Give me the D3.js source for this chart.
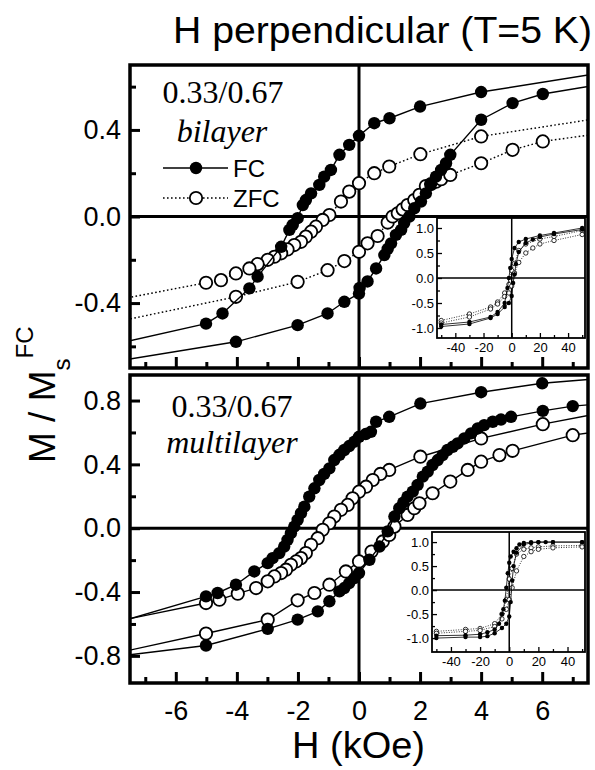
<!DOCTYPE html>
<html>
<head>
<meta charset="utf-8">
<script src="https://cdn.jsdelivr.net/npm/d3@7"></script>
<style>
  body { margin: 0; background: #fff; }
  svg { display: block; font-family: "Liberation Sans", Arial, sans-serif; }
</style>
</head>
<body>
<svg id="chart" width="595" height="770"></svg>
<script>
// ---- data: [H (kOe), M/Ms] ----
// bilayer, main panel
const bilFcDown = [[8.0,0.665],[4.0,0.575],[2.0,0.508],[1.0,0.454],[0.5,0.431],[0.0,0.373],[-0.32,0.331],[-0.64,0.285],[-0.92,0.215],[-1.14,0.184],[-1.30,0.146],[-1.57,0.107],[-1.74,0.076],[-1.84,0.053],[-2.01,-0.008],[-2.17,-0.039],[-2.28,-0.062],[-2.55,-0.14],[-3.32,-0.278],[-3.59,-0.332],[-4.47,-0.448],[-5.01,-0.495],[-8.0,-0.59]];
const bilFcUp = [[-8.0,-0.67],[-4.03,-0.579],[-2.01,-0.502],[-1.03,-0.448],[-0.48,-0.394],[0.0,-0.356],[0.02,-0.33],[0.28,-0.30],[0.56,-0.24],[0.83,-0.178],[0.94,-0.15],[1.05,-0.124],[1.21,-0.085],[1.38,-0.062],[1.48,-0.03],[1.65,0.0],[1.81,0.038],[2.03,0.069],[2.19,0.107],[2.36,0.15],[2.52,0.184],[2.69,0.215],[2.85,0.246],[2.99,0.285],[4.0,0.447],[5.03,0.524],[6.02,0.566],[8.0,0.612]];
const bilZfcDown = [[8.0,0.457],[4.0,0.37],[2.01,0.288],[0.99,0.231],[0.5,0.2],[0.0,0.154],[-0.32,0.115],[-0.59,0.069],[-0.97,0.007],[-1.19,-0.016],[-1.41,-0.047],[-1.57,-0.07],[-1.74,-0.093],[-1.9,-0.117],[-2.12,-0.132],[-2.34,-0.152],[-2.55,-0.17],[-2.77,-0.186],[-2.99,-0.2],[-3.32,-0.22],[-3.59,-0.24],[-4.03,-0.263],[-4.52,-0.294],[-5.01,-0.306],[-8.0,-0.387]];
const bilZfcUp = [[-8.0,-0.488],[-4.03,-0.371],[-2.01,-0.302],[-1.03,-0.248],[-0.48,-0.206],[0.0,-0.163],[0.28,-0.124],[0.61,-0.09],[0.94,-0.028],[1.1,0.0],[1.27,0.015],[1.43,0.033],[1.59,0.053],[1.81,0.076],[1.98,0.1],[2.19,0.141],[2.36,0.15],[2.52,0.161],[2.69,0.172],[2.99,0.192],[4.0,0.246],[5.03,0.308],[6.02,0.347],[8.0,0.385]];

// multilayer, main panel
const mulFcDown = [[8.0,0.94],[6.0,0.908],[4.0,0.852],[2.01,0.781],[0.99,0.698],[0.56,0.667],[0.39,0.604],[0.22,0.59],[0.0,0.573],[-0.15,0.542],[-0.32,0.515],[-0.48,0.49],[-0.64,0.46],[-0.81,0.427],[-0.97,0.375],[-1.14,0.34],[-1.3,0.302],[-1.46,0.25],[-1.63,0.198],[-1.79,0.135],[-1.9,0.094],[-2.01,0.052],[-2.12,0.01],[-2.23,-0.031],[-2.34,-0.073],[-2.45,-0.115],[-2.61,-0.156],[-2.83,-0.188],[-2.99,-0.219],[-3.43,-0.271],[-4.03,-0.354],[-4.63,-0.406],[-5.01,-0.427],[-8.0,-0.595]];
const mulFcUp = [[-8.0,-0.805],[-5.01,-0.735],[-2.99,-0.631],[-2.01,-0.573],[-1.35,-0.521],[-0.97,-0.458],[-0.64,-0.396],[-0.48,-0.375],[-0.32,-0.344],[-0.15,-0.3125],[0.0,-0.281],[0.34,-0.198],[0.67,-0.115],[0.94,-0.02],[1.16,0.073],[1.32,0.125],[1.45,0.16],[1.59,0.198],[1.76,0.229],[1.92,0.271],[2.09,0.323],[2.25,0.354],[2.41,0.396],[2.58,0.427],[2.74,0.458],[2.9,0.49],[3.07,0.51],[3.23,0.531],[3.45,0.5625],[3.67,0.594],[3.89,0.625],[4.1,0.646],[4.38,0.667],[4.65,0.681],[4.98,0.698],[6.02,0.735],[7.0,0.765],[8.0,0.78]];
const mulZfcDown = [[8.0,0.725],[6.02,0.652],[4.0,0.5625],[2.01,0.448],[0.99,0.365],[0.7,0.34],[0.45,0.302],[0.23,0.26],[0.0,0.229],[-0.21,0.1875],[-0.37,0.146],[-0.59,0.115],[-0.81,0.073],[-0.97,0.031],[-1.19,-0.01],[-1.35,-0.0625],[-1.57,-0.104],[-1.74,-0.156],[-1.9,-0.1875],[-2.06,-0.208],[-2.23,-0.229],[-2.39,-0.26],[-2.55,-0.281],[-2.77,-0.302],[-2.99,-0.333],[-3.37,-0.375],[-3.97,-0.41],[-4.57,-0.448],[-5.01,-0.469],[-8.0,-0.586]];
const mulZfcUp = [[-8.0,-0.785],[-5.01,-0.66],[-2.99,-0.573],[-2.01,-0.452],[-1.46,-0.406],[-0.97,-0.354],[-0.43,-0.271],[0.0,-0.208],[0.41,-0.146],[0.78,-0.083],[0.99,-0.042],[1.16,0.01],[1.59,0.083],[1.81,0.125],[1.98,0.156],[2.41,0.219],[2.99,0.292],[3.56,0.365],[4.0,0.417],[4.6,0.458],[5.03,0.485],[7.0,0.583],[8.0,0.61]];

// insets, full loops to +-50 kOe
const bilInFcDown = [[50,1.0],[30,0.9],[20,0.85],[10,0.78],[5,0.72],[2,0.6],[0,0.38],[-1,0.2],[-2,0.0],[-3,-0.2],[-5,-0.5],[-10,-0.68],[-15,-0.78],[-30,-0.88],[-50,-0.93]];
const bilInFcUp = [[-50,-0.97],[-30,-0.92],[-15,-0.8],[-10,-0.72],[-5,-0.58],[-2,-0.5],[0,-0.36],[1,-0.1],[2,0.07],[3,0.28],[5,0.52],[10,0.7],[15,0.77],[20,0.82],[30,0.88],[50,0.97]];
const bilInZfcDown = [[50,0.95],[30,0.83],[20,0.78],[10,0.68],[5,0.55],[2,0.29],[0,0.15],[-2,-0.13],[-5,-0.3],[-10,-0.48],[-15,-0.58],[-30,-0.72],[-50,-0.85]];
const bilInZfcUp = [[-50,-0.9],[-30,-0.78],[-15,-0.62],[-10,-0.52],[-5,-0.37],[-2,-0.3],[0,-0.16],[2,0.1],[5,0.31],[10,0.5],[15,0.6],[20,0.68],[30,0.75],[50,0.87]];
const mulInFcDown = [[50,1.0],[30,1.0],[25,1.0],[20,1.0],[15,1.0],[10,0.98],[7,0.95],[5,0.87],[3,0.8],[1,0.7],[0,0.57],[-1,0.35],[-2,0.05],[-3,-0.22],[-4,-0.4],[-5,-0.5],[-7,-0.7],[-10,-0.82],[-15,-0.88],[-20,-0.92],[-30,-0.94],[-50,-0.95]];
const mulInFcUp = [[-50,-1.0],[-30,-0.98],[-20,-0.98],[-15,-0.96],[-10,-0.9],[-5,-0.79],[-2,-0.7],[0,-0.55],[1,-0.25],[2,0.2],[3,0.5],[5,0.78],[10,0.95],[15,0.98],[20,1.0],[30,1.0],[50,1.0]];
const mulInZfcDown = [[50,0.93],[30,0.92],[20,0.9],[15,0.88],[10,0.85],[5,0.75],[2,0.45],[0,0.23],[-2,-0.2],[-5,-0.5],[-10,-0.7],[-20,-0.8],[-30,-0.82],[-50,-0.86]];
const mulInZfcUp = [[-50,-0.9],[-30,-0.86],[-20,-0.84],[-10,-0.76],[-5,-0.6],[-2,-0.4],[0,-0.2],[2,0.05],[5,0.4],[10,0.7],[15,0.8],[20,0.85],[30,0.88],[50,0.9]];

// tick values
const hTicksMajor = [-6, -4, -2, 0, 2, 4, 6];
const hTicksMinor = [-7, -5, -3, -1, 1, 3, 5, 7];
const mTopMajor = [-0.4, 0.0, 0.4];
const mTopMinor = [-0.6, -0.2, 0.2, 0.6];
const mBotMajor = [-0.8, -0.4, 0.0, 0.4, 0.8];
const mBotMinor = [-0.6, -0.2, 0.2, 0.6];
const inHMajor = [-40, -20, 0, 20, 40];
const inHMinor = [-50, -30, -10, 10, 30, 50];
const inMMajor = [-1.0, -0.5, 0.0, 0.5, 1.0];
const inMMinor = [-0.75, -0.25, 0.25, 0.75];

const svg = d3.select('#chart');
// plain hyphen minus, as in the original figure
const fmt1 = (d) => d.toFixed(1);
const fmt0 = (d) => String(d);

const x = d3.scaleLinear().domain([-7.5, 7.5]).range([130, 588]);
const yTop = d3.scaleLinear().domain([-0.7, 0.7]).range([368, 65]);
const yBot = d3.scaleLinear().domain([-0.97, 0.96]).range([683, 375]);

let clipCount = 0;

const drawSeries = (g, data, xs, ys, filled, dotted, r, lw) => {
  const line = d3.line().x((d) => xs(d[0])).y((d) => ys(d[1]));
  g.append('path')
    .datum(data)
    .attr('d', line)
    .attr('fill', 'none')
    .attr('stroke', '#000')
    .attr('stroke-width', lw)
    .attr('stroke-dasharray', dotted ? (lw < 1.2 ? '1,1.5' : '1.6,2.4') : null);
  g.selectAll(null)
    .data(data)
    .enter()
    .append('circle')
    .attr('cx', (d) => xs(d[0]))
    .attr('cy', (d) => ys(d[1]))
    .attr('r', r)
    .attr('fill', filled ? '#000' : '#fff')
    .attr('stroke', '#000')
    .attr('stroke-width', filled ? 0 : (r > 3 ? 1.8 : 0.8));
};

const addClip = (xs, ys) => {
  const id = 'clip' + clipCount++;
  svg.append('clipPath').attr('id', id)
    .append('rect')
    .attr('x', xs.range()[0]).attr('y', ys.range()[1])
    .attr('width', xs.range()[1] - xs.range()[0])
    .attr('height', ys.range()[0] - ys.range()[1]);
  return 'url(#' + id + ')';
};

const drawPanel = (ys, majorM, minorM, series, showHLabels) => {
  const x0 = x.range()[0], x1 = x.range()[1];
  const yb = ys.range()[0], yt = ys.range()[1];

  // zero lines
  svg.append('line').attr('x1', x0).attr('x2', x1).attr('y1', ys(0)).attr('y2', ys(0))
    .attr('stroke', '#000').attr('stroke-width', 3);
  svg.append('line').attr('x1', x(0)).attr('x2', x(0)).attr('y1', yt).attr('y2', yb)
    .attr('stroke', '#000').attr('stroke-width', 3);

  const g = svg.append('g').attr('clip-path', addClip(x, ys));
  series.forEach((s) => drawSeries(g, s.data, x, ys, s.filled, s.dotted, 6.2, 1.4));

  // left axis
  const la = svg.append('g').attr('transform', 'translate(' + x0 + ',0)')
    .call(d3.axisLeft(ys).tickValues(majorM).tickSize(-10).tickPadding(9).tickFormat(fmt1));
  svg.append('g').attr('transform', 'translate(' + x0 + ',0)')
    .call(d3.axisLeft(ys).tickValues(minorM).tickSize(-6).tickFormat(''));
  // bottom axis
  const ba = svg.append('g').attr('transform', 'translate(0,' + yb + ')')
    .call(d3.axisBottom(x).tickValues(hTicksMajor).tickSize(-11).tickPadding(18)
      .tickFormat(showHLabels ? fmt0 : ''));
  svg.append('g').attr('transform', 'translate(0,' + yb + ')')
    .call(d3.axisBottom(x).tickValues(hTicksMinor).tickSize(-6).tickFormat(''));

  svg.selectAll('.domain').remove();
  svg.selectAll('.tick line').attr('stroke-width', 3);
  la.selectAll('text').attr('font-size', 27).attr('fill', '#000')
    .attr('font-family', '"Liberation Sans", Arial, sans-serif');
  ba.selectAll('text').attr('font-size', 27).attr('fill', '#000')
    .attr('font-family', '"Liberation Sans", Arial, sans-serif');

  // frame
  svg.append('rect').attr('x', x0).attr('y', yt).attr('width', x1 - x0).attr('height', yb - yt)
    .attr('fill', 'none').attr('stroke', '#000').attr('stroke-width', 3.5);
};

const drawInset = (xs, ys, series) => {
  const x0 = xs.range()[0], x1 = xs.range()[1];
  const yb = ys.range()[0], yt = ys.range()[1];
  svg.append('rect').attr('x', x0).attr('y', yt).attr('width', x1 - x0).attr('height', yb - yt)
    .attr('fill', '#fff');
  svg.append('line').attr('x1', x0).attr('x2', x1).attr('y1', ys(0)).attr('y2', ys(0))
    .attr('stroke', '#000').attr('stroke-width', 1.5);
  svg.append('line').attr('x1', xs(0)).attr('x2', xs(0)).attr('y1', yt).attr('y2', yb)
    .attr('stroke', '#000').attr('stroke-width', 1.5);

  const g = svg.append('g').attr('clip-path', addClip(xs, ys));
  series.forEach((s) => drawSeries(g, s.data, xs, ys, s.filled, s.dotted, 2.2, 0.8));

  const ia = svg.append('g').attr('class', 'inset').attr('transform', 'translate(' + x0 + ',0)')
    .call(d3.axisLeft(ys).tickValues(inMMajor).tickSize(-5).tickPadding(3).tickFormat(fmt1));
  svg.append('g').attr('class', 'inset').attr('transform', 'translate(' + x0 + ',0)')
    .call(d3.axisLeft(ys).tickValues(inMMinor).tickSize(-3).tickFormat(''));
  const ib = svg.append('g').attr('class', 'inset').attr('transform', 'translate(0,' + yb + ')')
    .call(d3.axisBottom(xs).tickValues(inHMajor).tickSize(-5).tickPadding(5).tickFormat(fmt0));
  svg.append('g').attr('class', 'inset').attr('transform', 'translate(0,' + yb + ')')
    .call(d3.axisBottom(xs).tickValues(inHMinor).tickSize(-3).tickFormat(''));
  svg.selectAll('.inset .domain').remove();
  svg.selectAll('.inset .tick line').attr('stroke-width', 1.3);
  ia.selectAll('text').attr('font-size', 13).attr('fill', '#000')
    .attr('font-family', '"Liberation Sans", Arial, sans-serif');
  ib.selectAll('text').attr('font-size', 13).attr('fill', '#000')
    .attr('font-family', '"Liberation Sans", Arial, sans-serif');

  svg.append('rect').attr('x', x0).attr('y', yt).attr('width', x1 - x0).attr('height', yb - yt)
    .attr('fill', 'none').attr('stroke', '#000').attr('stroke-width', 1.8);
};

// top panel: bilayer
drawPanel(yTop, mTopMajor, mTopMinor, [
  { data: bilZfcDown, filled: false, dotted: true },
  { data: bilZfcUp, filled: false, dotted: true },
  { data: bilFcDown, filled: true, dotted: false },
  { data: bilFcUp, filled: true, dotted: false }
], false);

// bottom panel: multilayer
drawPanel(yBot, mBotMajor, mBotMinor, [
  { data: mulZfcDown, filled: false, dotted: false },
  { data: mulZfcUp, filled: false, dotted: false },
  { data: mulFcDown, filled: true, dotted: false },
  { data: mulFcUp, filled: true, dotted: false }
], true);

// insets
const inTopX = d3.scaleLinear().domain([-53, 52]).range([437, 585]);
const inTopY = d3.scaleLinear().domain([-1.2, 1.2]).range([338, 218]);
drawInset(inTopX, inTopY, [
  { data: bilInZfcDown, filled: false, dotted: true },
  { data: bilInZfcUp, filled: false, dotted: true },
  { data: bilInFcDown, filled: true, dotted: false },
  { data: bilInFcUp, filled: true, dotted: false }
]);
const inBotX = d3.scaleLinear().domain([-53, 52]).range([432, 585]);
const inBotY = d3.scaleLinear().domain([-1.29, 1.21]).range([652, 532]);
drawInset(inBotX, inBotY, [
  { data: mulInZfcDown, filled: false, dotted: true },
  { data: mulInZfcUp, filled: false, dotted: true },
  { data: mulInFcDown, filled: true, dotted: false },
  { data: mulInFcUp, filled: true, dotted: false }
]);

// legend (top panel)
const legend = svg.append('g');
[{ label: 'FC', filled: true, dotted: false, y: 168 },
 { label: 'ZFC', filled: false, dotted: true, y: 198 }].forEach((d) => {
  legend.append('line').attr('x1', 163).attr('x2', 228).attr('y1', d.y).attr('y2', d.y)
    .attr('stroke', '#000').attr('stroke-width', 1.4)
    .attr('stroke-dasharray', d.dotted ? '1.6,2.4' : null);
  legend.append('circle').attr('cx', 196).attr('cy', d.y).attr('r', 6.2)
    .attr('fill', d.filled ? '#000' : '#fff').attr('stroke', '#000')
    .attr('stroke-width', d.filled ? 0 : 1.8);
  legend.append('text').attr('x', 233).attr('y', d.y + 8.5).attr('font-size', 24).text(d.label);
});

// sample labels
const serif = '"Liberation Serif", "Times New Roman", serif';
svg.append('text').attr('x', 223).attr('y', 103).attr('text-anchor', 'middle')
  .attr('font-family', serif).attr('font-size', 32).text('0.33/0.67');
svg.append('text').attr('x', 222).attr('y', 142).attr('text-anchor', 'middle')
  .attr('font-family', serif).attr('font-style', 'italic').attr('font-size', 32).text('bilayer');
svg.append('text').attr('x', 232).attr('y', 417).attr('text-anchor', 'middle')
  .attr('font-family', serif).attr('font-size', 32).text('0.33/0.67');
svg.append('text').attr('x', 232).attr('y', 453).attr('text-anchor', 'middle')
  .attr('font-family', serif).attr('font-style', 'italic').attr('font-size', 32).text('multilayer');

// titles
svg.append('text').attr('x', 173).attr('y', 43)
  .attr('font-size', 36).attr('textLength', 419).attr('lengthAdjust', 'spacingAndGlyphs')
  .text('H perpendicular (T=5 K)');
svg.append('text').attr('x', 292).attr('y', 758)
  .attr('font-size', 37).attr('textLength', 133).attr('lengthAdjust', 'spacingAndGlyphs')
  .text('H (kOe)');

const yl = svg.append('text').attr('transform', 'translate(55,463) rotate(-90)')
  .attr('font-size', 37);
yl.append('tspan').text('M / M');
yl.append('tspan').attr('font-size', 24).attr('dy', 15).text('s');
yl.append('tspan').attr('font-size', 24).attr('dy', -37).text('FC');
</script>
</body>
</html>
